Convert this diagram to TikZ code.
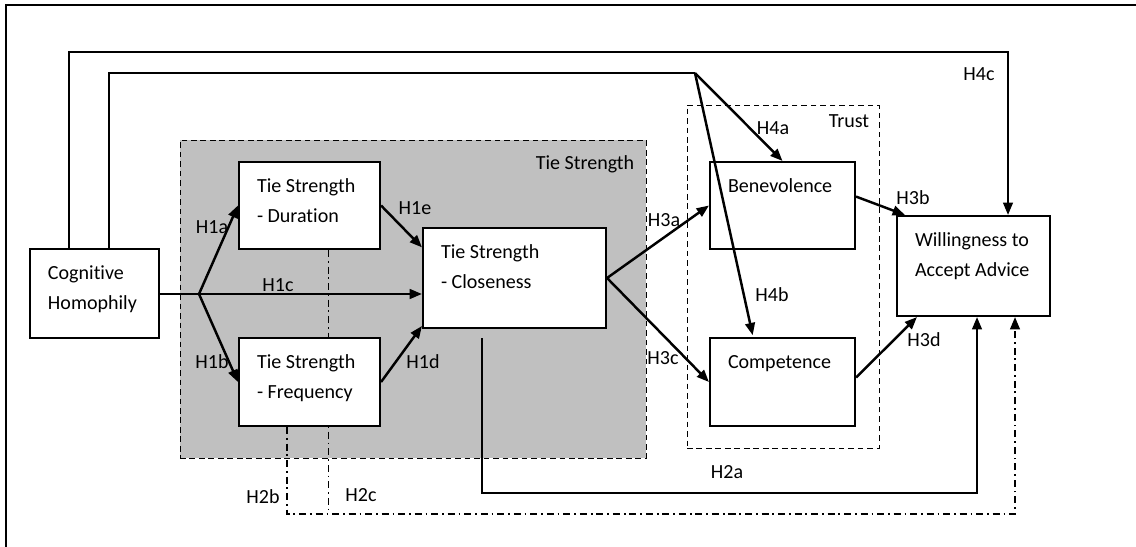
\documentclass[tikz,border=0pt]{standalone}
\usepackage{fontspec}
\setmainfont{Carlito}[Ligatures=NoCommon]
\usepackage{tikz}
\usetikzlibrary{arrows.meta,positioning,fit,calc,backgrounds}
\definecolor{tsgray}{RGB}{192,192,192}

\begin{document}
\begin{tikzpicture}[x=0.02cm, y=-0.02cm, line width=1.2pt,
  >={Triangle[length=7pt,width=5.5pt]},
  font=\fontsize{11.4pt}{17pt}\selectfont,
  box/.style={draw, fill=white, inner sep=0pt},
  txt/.style={anchor=north west, align=left, inner sep=0pt},
  hyp/.style={inner sep=0pt},
  link/.style={->, line width=1.4pt},
  group/.style={draw, dash pattern=on 3.2pt off 2.2pt, inner sep=0pt},
  dashdot/.style={dash pattern=on 4pt off 2.2pt on 1pt off 2.2pt}]
\useasboundingbox (0,0) rectangle (1136,547);
% frame
\draw (1136,5) -- (6,5) -- (6,547);

\coordinate (split) at (199,294);
\coordinate (h4c) at (1008,52);
\coordinate (fork) at (695,73);
\coordinate (h2a) at (977,493);
\coordinate (h2bc) at (1015,514);

% boxes
\node[box, fit={(30,249) (159,338)}] (cog) {};
\node[box, fit={(239,162) (380,249)}] (dur) {};
\node[box, fit={(239,338) (380,426)}] (freq) {};
\node[box, fit={(423,228) (606,328)}] (clo) {};
\node[box, fit={(710,162) (855,249)}] (ben) {};
\node[box, fit={(710,338) (855,426)}] (comp) {};
\node[box, fit={(897,216) (1050,316)}] (will) {};

\node[txt] (cog-t) at ($(cog.north west)+(18,16.5)$) {Cognitive\\Homophily};
\node[txt] (dur-t) at ($(dur.north west)+(18,16.5)$) {Tie Strength\\- Duration};
\node[txt] (freq-t) at ($(freq.north west)+(18,16.5)$) {Tie Strength\\- Frequency};
\node[txt] (clo-t) at ($(clo.north west)+(18,16.5)$) {Tie Strength\\- Closeness};
\node[txt] (ben-t) at ($(ben.north west)+(18,16.5)$) {Benevolence};
\node[txt] (comp-t) at ($(comp.north west)+(18,17.5)$) {Competence};
\node[txt] (will-t) at ($(will.north west)+(18,16.5)$) {Willingness to\\Accept Advice};

\coordinate (h2c) at ($(dur.south west)+(90,0)$);

% groups behind
\begin{scope}[on background layer]
  \node[group, fill=tsgray, fit={(180,140) (646,458)}] (tsgroup) {};
  \node[anchor=base east] (tsgroup-t) at ($(tsgroup.north east)+(-6,30)$) {Tie Strength};
  \node[group, fit={(687,105) (879,448)}] (trust) {};
  \node[anchor=base east] (trust-t) at ($(trust.north east)+(-4,23)$) {Trust};
  \draw[dashdot] (h2c) -- (h2c |- h2bc);
\end{scope}

% H1
\draw[line width=1.4pt] (cog.east |- split) -- (split);
\draw[link] (split) -- (split -| clo.west);
\draw[link] (split) -- (dur.west);
\draw[link] (split) -- (freq.west);
\draw[link] (dur.east) -- ($(clo.north west)!0.2!(clo.south west)$);
\draw[link] (freq.east) -- ($(clo.north west)!0.97!(clo.south west)$);
% H3
\draw[link] (clo.east) -- (ben.west);
\draw[link] (clo.east) -- (comp.west);
\draw[link] ($(ben.north east)!0.4!(ben.south east)$) -- ($(will.north west)+(9,0)$);
\draw[link] ($(comp.north east)!0.45!(comp.south east)$) -- ($(will.south west)+(21,0)$);
% H4
\draw[->] ($(cog.north west)+(40,0)$) |- (h4c) -- (h4c |- will.north);
\draw ($(cog.north west)+(80,0)$) |- (fork);
\draw[link] (fork) -- (ben.north);
\draw[link, shorten >=1pt] (fork) -- ($(comp.north west)!0.3!(comp.north east)$);
% H2
\draw[->] ($(clo.south west)+(60,9)$) |- (h2a) -- (h2a |- will.south);
\draw[dashdot, ->] ($(freq.south west)+(49,0)$) |- (h2bc) -- (h2bc |- will.south);

% hypothesis labels
\node[hyp] (l-h1a) at (212,227) {H1a};
\node[hyp] (l-h1b) at (212,362) {H1b};
\node[hyp] (l-h1c) at (278,285) {H1c};
\node[hyp] (l-h1d) at (423,362) {H1d};
\node[hyp] (l-h1e) at (415,208) {H1e};
\node[hyp] (l-h2a) at (727,472) {H2a};
\node[hyp] (l-h2b) at (263,497) {H2b};
\node[hyp] (l-h2c) at (361,495) {H2c};
\node[hyp] (l-h3a) at (664,220) {H3a};
\node[hyp] (l-h3b) at (913,198) {H3b};
\node[hyp] (l-h3c) at (663,358) {H3c};
\node[hyp] (l-h3d) at (924,340) {H3d};
\node[hyp] (l-h4a) at (773,128) {H4a};
\node[hyp] (l-h4b) at (772,295) {H4b};
\node[hyp] (l-h4c) at (979,74) {H4c};
\end{tikzpicture}
\end{document}
